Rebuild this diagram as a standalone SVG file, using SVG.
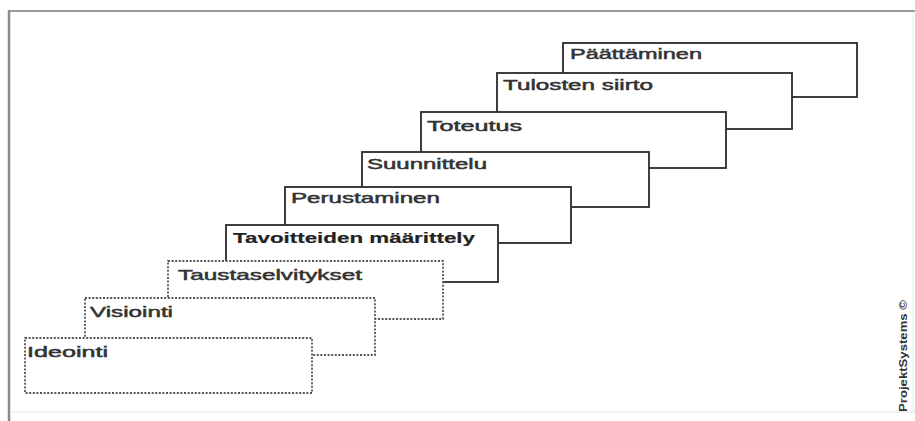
<svg xmlns="http://www.w3.org/2000/svg" width="915" height="421" viewBox="0 0 915 421">
<style>
.box{fill:#fff;stroke:#2b2b2b;stroke-width:1.8}
.dot{fill:#fff;stroke:#555;stroke-width:1.8;stroke-dasharray:2 1.6}
.lbl{font-family:"Liberation Sans",Arial,sans-serif;font-size:15px;fill:#333;stroke:#333;stroke-width:0.5}
.strong{font-weight:bold;stroke-width:0.2;fill:#222}
</style>
<rect x="0" y="0" width="915" height="421" fill="#fff"/>
<g id="frame">
<line x1="9" y1="11" x2="915" y2="11" stroke="#9a9a9a" stroke-width="2"/>
<line x1="9" y1="10" x2="9" y2="421" stroke="#8a8a8a" stroke-width="2.5"/>
<line x1="10" y1="412" x2="915" y2="412" stroke="#e2e2e2" stroke-width="1"/>
<line x1="913" y1="12" x2="913" y2="412" stroke="#eeeeee" stroke-width="1"/>
</g>
<g id="paattaminen"><rect class="box" x="563" y="43" width="294" height="54"/><text class="lbl" x="570" y="59" textLength="132" lengthAdjust="spacingAndGlyphs">Päättäminen</text></g>
<g id="tulosten-siirto"><rect class="box" x="497" y="73" width="295" height="56"/><text class="lbl" x="503" y="90" textLength="150" lengthAdjust="spacingAndGlyphs">Tulosten siirto</text></g>
<g id="toteutus"><rect class="box" x="421" y="112" width="305" height="56"/><text class="lbl" x="427" y="131" textLength="95" lengthAdjust="spacingAndGlyphs">Toteutus</text></g>
<g id="suunnittelu"><rect class="box" x="362" y="152" width="287" height="55"/><text class="lbl" x="367" y="169" textLength="120" lengthAdjust="spacingAndGlyphs">Suunnittelu</text></g>
<g id="perustaminen"><rect class="box" x="285" y="187" width="286" height="56"/><text class="lbl" x="291" y="203" textLength="149" lengthAdjust="spacingAndGlyphs">Perustaminen</text></g>
<g id="tavoitteiden"><rect class="box" x="226" y="225" width="272" height="57"/><text class="lbl strong" x="233" y="243" textLength="242" lengthAdjust="spacingAndGlyphs">Tavoitteiden määrittely</text></g>
<g id="taustaselvitykset"><rect class="dot" x="168" y="261" width="275" height="58"/><text class="lbl" x="178" y="280" textLength="184" lengthAdjust="spacingAndGlyphs">Taustaselvitykset</text></g>
<g id="visiointi"><rect class="dot" x="85" y="298" width="290" height="57"/><text class="lbl" x="90" y="317" textLength="83" lengthAdjust="spacingAndGlyphs">Visiointi</text></g>
<g id="ideointi"><rect class="dot" x="25" y="338" width="287" height="55"/><text class="lbl" x="27" y="357" textLength="81" lengthAdjust="spacingAndGlyphs">Ideointi</text></g>
<g id="credit"><text transform="translate(907,356) rotate(-90)" text-anchor="middle" font-family="Liberation Sans,Arial,sans-serif" font-size="11" font-weight="bold" fill="#333" textLength="112" lengthAdjust="spacingAndGlyphs">ProjektSystems ©</text></g>
</svg>
